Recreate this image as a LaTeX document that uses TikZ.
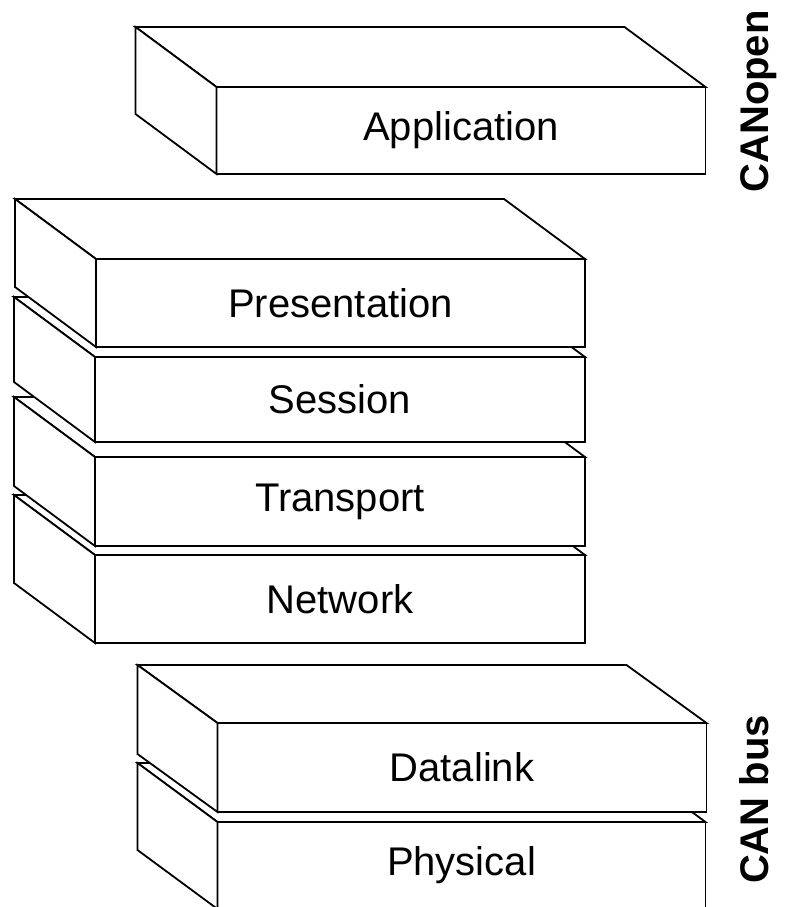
\documentclass[tikz,border=0pt]{standalone}
\usepackage{fontspec}
\setmainfont{Liberation Sans}

% One layer of the stack: front face as a node, then its top and left faces.
% #1 name, #2 #3 centre of the front face, #4 width, #5 height,
% #6 #7 depth offset of the back edges, #8 label
\newcommand\osilayer[8]{%
  \node[face, minimum width=#4pt, minimum height=#5pt] (#1) at (#2,#3) {#8};
  \filldraw[side] (#1.north west) -- ++(-#6,-#7) -- ++(#4,0) -- (#1.north east) -- cycle;
  \filldraw[side] (#1.north west) -- ++(-#6,-#7) -- ++(0,#5) -- (#1.south west) -- cycle;
}

\begin{document}
\begin{tikzpicture}[x=1pt, y=-1pt,
  every node/.style={inner sep=0pt, outer sep=0pt},
  face/.style={draw=black, fill=white, line width=1.8pt, line join=miter,
               font=\fontsize{40}{48}\selectfont},
  side/.style={draw=black, fill=white, line width=1.8pt, line join=miter},
  stacklabel/.style={rotate=90, anchor=base,
                     font=\fontsize{40}{48}\selectfont\bfseries}]

\useasboundingbox (0,0) rectangle (785,907);
\fill[white] (0,0) rectangle (785,907);
\clip (0,0) rectangle (785,907);

% CANopen application layer
\osilayer{application}{461}{130.5}{489}{87}{81}{60}{Application}

% middle layers, drawn from the bottom up so each one sits on the next
\osilayer{network}{340}{599}{490}{88}{81}{60}{Network}
\osilayer{transport}{340}{501.5}{490}{89}{81}{60}{Transport}
\osilayer{session}{340}{399.5}{490}{85}{81}{60}{Session}
\osilayer{presentation}{340.5}{303}{489}{88}{81}{60}{Presentation}

% CAN bus layers
\osilayer{physical}{461.5}{865.5}{488}{87}{80}{59}{Physical}
\osilayer{datalink}{462}{767.5}{489}{89}{80}{58}{Datalink}

% side captions
\node[stacklabel] (canopen) at (768,101.5) {CANopen};
\node[stacklabel] (canbus) at (768,799.5) {CAN bus};
\end{tikzpicture}
\end{document}
